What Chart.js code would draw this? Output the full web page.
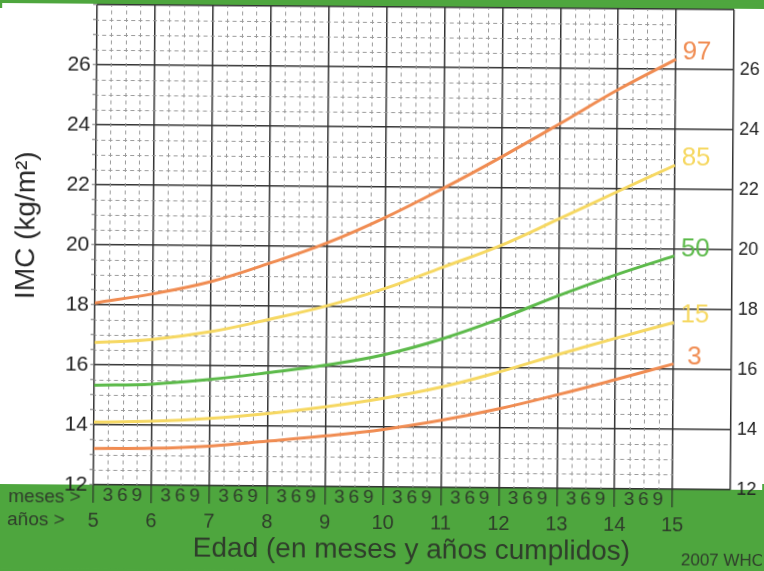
<!DOCTYPE html>
<html>
<head>
<meta charset="utf-8">
<script src="https://cdn.jsdelivr.net/npm/chart.js@4.4.1/dist/chart.umd.min.js"></script>
<style>
  html, body { margin: 0; padding: 0; overflow: hidden; }
  body { width: 764px; height: 571px; background: linear-gradient(#4ea63e 0 8px, #fff 8px 484px, #4ea63e 484px); }
  #wrap { width: 764px; height: 571px; transform: rotate(0.45deg); }
</style>
</head>
<body>
<div id="wrap"><canvas id="imc" width="764" height="571"></canvas></div>
<script>
// edades en años cumplidos
const edades = [5, 6, 7, 8, 9, 10, 11, 12, 13, 14, 15];
// percentiles del IMC
const p97 = [18.06, 18.38, 18.8, 19.42, 20.12, 20.98, 21.97, 23.03, 24.15, 25.3, 26.33];
const p85 = [16.74, 16.86, 17.13, 17.55, 18.02, 18.61, 19.34, 20.08, 20.98, 21.9, 22.8];
const p50 = [15.32, 15.37, 15.54, 15.78, 16.05, 16.41, 16.95, 17.64, 18.42, 19.14, 19.78];
const p15 = [14.09, 14.13, 14.24, 14.42, 14.66, 14.96, 15.35, 15.87, 16.46, 17.02, 17.56];
const p3  = [13.21, 13.23, 13.32, 13.5, 13.69, 13.92, 14.24, 14.64, 15.12, 15.64, 16.18];
const meses = ['3', '6', '9'];
const etiquetasIMC = [12, 14, 16, 18, 20, 22, 24, 26];

const naranja = '#f08c52';
const amarillo = '#f6d862';
const verdeCurva = '#5cba4a';
const verdeFondo = '#4ea63e';
const tinta = '#2f3d2b';
const linea = '#333';
const fuente = "'Liberation Sans', Arial, Helvetica, sans-serif";

Chart.defaults.font.family = fuente;

const esEntero = v => Math.abs(v - Math.round(v)) < 1e-6;
const serie = vals => edades.map((e, i) => ({x: e, y: vals[i]}));

const fondo = {
  id: 'fondo',
  beforeDraw(chart) {
    const {ctx, width, height, chartArea} = chart;
    ctx.save();
    ctx.fillStyle = '#fff';
    ctx.fillRect(0, 0, width, height);
    ctx.fillStyle = verdeFondo;
    ctx.fillRect(0, 0, width, chartArea.top - 1);
    ctx.fillRect(0, chartArea.bottom, width, height - chartArea.bottom);
    ctx.restore();
  }
};

// cuadricula fina punteada (trimestres x 0.5 de IMC)
const cuadricula = {
  id: 'cuadricula',
  beforeDatasetsDraw(chart) {
    const {ctx, scales: {x, y}} = chart;
    const izq = x.getPixelForValue(5), der = x.getPixelForValue(15);
    const arr = y.getPixelForValue(28), abj = y.getPixelForValue(12);
    ctx.save();
    ctx.strokeStyle = '#9a9a9a';
    ctx.lineWidth = 1;
    const px = (x.getPixelForValue(6) - izq) / 8;
    ctx.setLineDash([4, px - 4]);
    ctx.lineDashOffset = 2;
    for (let v = 12.5; v < 28; v += 0.5) {
      if (v % 2 === 0) continue;
      const py = Math.round(y.getPixelForValue(v)) + 0.5;
      ctx.beginPath(); ctx.moveTo(izq, py); ctx.lineTo(der, py); ctx.stroke();
    }
    const py2 = (abj - y.getPixelForValue(12.5)) / 2;
    ctx.setLineDash([4, py2 - 4]);
    ctx.lineDashOffset = 2;
    for (let v = 5.25; v < 15; v += 0.25) {
      if (esEntero(v)) continue;
      const xx = Math.round(x.getPixelForValue(v)) + 0.5;
      ctx.beginPath(); ctx.moveTo(xx, arr); ctx.lineTo(xx, abj); ctx.stroke();
    }
    ctx.restore();
  }
};

const rotulos = {
  id: 'rotulos',
  afterDatasetsDraw(chart) {
    const {ctx} = chart;
    ctx.save();
    ctx.font = '26px ' + fuente;
    ctx.textAlign = 'center';
    ctx.textBaseline = 'middle';
    chart.data.datasets.forEach((ds, i) => {
      const pts = chart.getDatasetMeta(i).data;
      const p = pts[pts.length - 1];
      ctx.fillStyle = ds.borderColor;
      ctx.fillText(ds.label, p.x + 21, p.y - 7);
    });
    ctx.restore();
  },
  afterDraw(chart) {
    const {ctx, scales} = chart;
    ctx.save();
    ctx.fillStyle = '#262626';
    ctx.font = '28px ' + fuente;
    ctx.textAlign = 'center';
    ctx.textBaseline = 'middle';
    ctx.translate(26, 228);
    ctx.rotate(-Math.PI / 2);
    ctx.fillText('IMC (kg/m²)', 0, 0);
    ctx.restore();

    ctx.save();
    ctx.fillStyle = tinta;
    ctx.textBaseline = 'middle';
    ctx.font = '19px ' + fuente;
    ctx.fillText('meses >', 10, scales.x.top + 13);
    ctx.fillText('años >', 9, scales.anios.top + 14);
    ctx.font = '17px ' + fuente;
    ctx.fillText('2007 WHO', 683, 558);
    ctx.restore();
  }
};

new Chart(document.getElementById('imc'), {
  type: 'line',
  data: {
    datasets: [
      {label: '97', data: serie(p97), borderColor: naranja},
      {label: '85', data: serie(p85), borderColor: amarillo},
      {label: '50', data: serie(p50), borderColor: verdeCurva},
      {label: '15', data: serie(p15), borderColor: amarillo},
      {label: '3', data: serie(p3), borderColor: naranja}
    ]
  },
  options: {
    responsive: false,
    animation: false,
    devicePixelRatio: 1,
    events: [],
    layout: {padding: {top: 7, left: 0, right: 0, bottom: 0}},
    elements: {
      line: {borderWidth: 3, tension: 0.4, fill: false},
      point: {radius: 0}
    },
    plugins: {legend: {display: false}, tooltip: {enabled: false}},
    scales: {
      x: {
        type: 'linear', position: 'bottom', min: 5, max: 16, weight: 0,
        ticks: {
          stepSize: 0.25, autoSkip: false, maxRotation: 0, minRotation: 0, padding: -19,
          color: tinta, font: {size: 19},
          callback: v => {
            const q = Math.round((v - Math.floor(v)) * 4);
            return (v < 15 && q > 0) ? meses[q - 1] : '';
          }
        },
        grid: {
          color: c => esEntero(c.tick.value) ? linea : 'rgba(0,0,0,0)',
          lineWidth: 1.5,
          tickLength: 18,
          tickWidth: 1.3,
          tickColor: c => (esEntero(c.tick.value) && c.tick.value <= 15) ? tinta : 'rgba(0,0,0,0)'
        },
        border: {display: false},
        afterFit(s) { s.height = 22; s.paddingLeft = 0; s.paddingRight = 0; }
      },
      anios: {
        type: 'linear', position: 'bottom', min: 5, max: 16, weight: 1,
        ticks: {
          stepSize: 1, autoSkip: false, maxRotation: 0, minRotation: 0, padding: 2.5,
          color: tinta, font: {size: 20},
          callback: v => v <= 15 ? String(v) : ''
        },
        grid: {display: false, drawTicks: false},
        border: {display: false},
        title: {display: true, text: 'Edad (en meses y años cumplidos)', color: tinta,
                font: {size: 28}, padding: {top: 0, bottom: 4}},
        afterFit(s) { s.height = 62; s.paddingLeft = 0; s.paddingRight = 0; }
      },
      y: {
        position: 'left', min: 12, max: 28,
        ticks: {
          stepSize: 0.5, autoSkip: false, padding: 2, color: '#222', font: {size: 21},
          callback: v => etiquetasIMC.includes(v) ? String(v) : ''
        },
        grid: {
          color: c => c.tick.value % 2 === 0 ? linea : 'rgba(0,0,0,0)',
          lineWidth: 1.5, tickLength: 4, tickWidth: 1, tickColor: '#777'
        },
        border: {display: false},
        afterFit(s) { s.width = 95; s.paddingTop = 0; s.paddingBottom = 0; }
      },
      yDer: {
        position: 'right', min: 12, max: 28,
        ticks: {
          stepSize: 2, padding: 6, color: '#222', font: {size: 18},
          callback: v => etiquetasIMC.includes(v) ? String(v) : ''
        },
        grid: {drawOnChartArea: false, drawTicks: false},
        border: {display: false},
        afterFit(s) { s.width = 32; s.paddingTop = 0; s.paddingBottom = 0; }
      }
    }
  },
  plugins: [fondo, cuadricula, rotulos]
});
</script>
</body>
</html>
